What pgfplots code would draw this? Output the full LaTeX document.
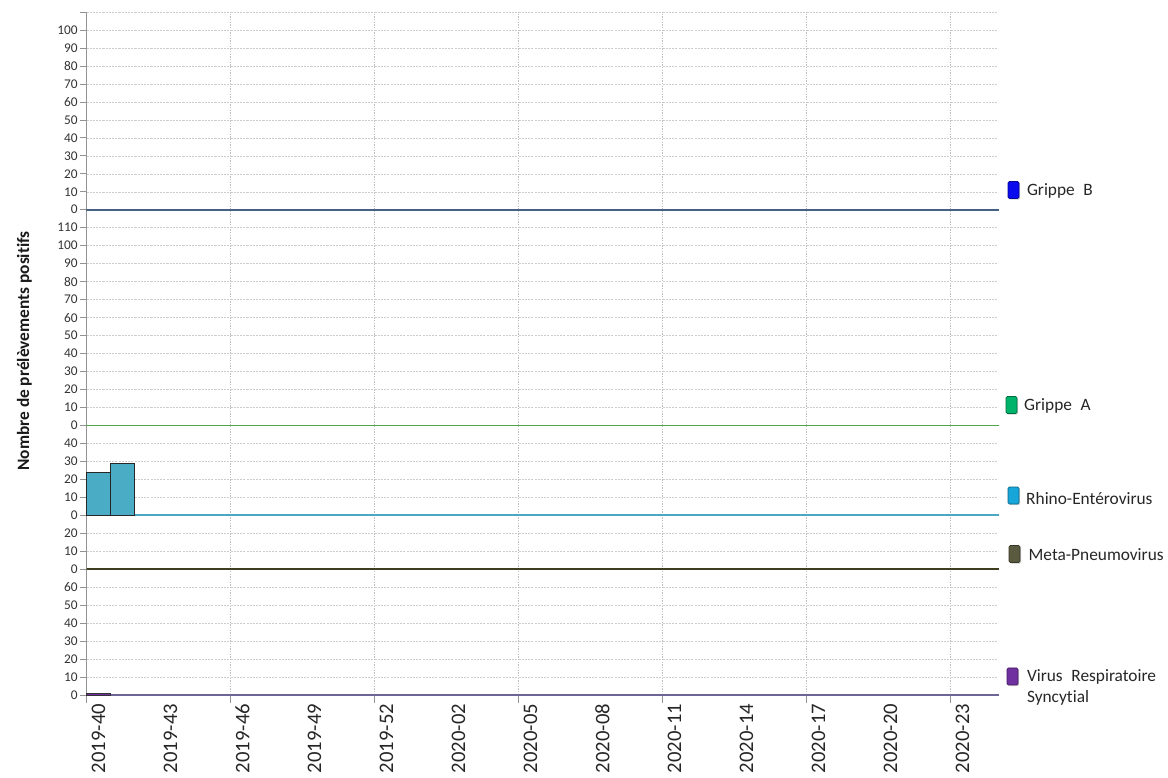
\documentclass[border=0pt]{standalone}
\usepackage{fontspec}
\setmainfont{Carlito}[Ligatures={NoCommon,NoContextual,NoRequired}]
\usepackage{pgfplots}
\pgfplotsset{compat=1.18}
\usepackage{pgfplotstable}
\usetikzlibrary{shadows}

\definecolor{lineB}{HTML}{46607F}
\definecolor{lineGA}{RGB}{80,165,72}
\definecolor{rhLine}{HTML}{4BA8C4}
\definecolor{rhFill}{HTML}{4BACC6}
\definecolor{meLine}{HTML}{3E3D20}
\definecolor{vrLine}{HTML}{6E6496}
\definecolor{vrFill}{HTML}{7030A0}
\definecolor{grBleg}{HTML}{0A0AEE}
\definecolor{grAleg}{HTML}{00B36B}
\definecolor{rhLeg}{HTML}{17A6DA}
\definecolor{meLeg}{HTML}{5A5A40}
\definecolor{vrLeg}{HTML}{7030A0}

\pgfplotstableread{
w gripB gripA rhino meta vrs
0 0 0 24 0 1
1 0 0 29 0 0
2 0 0 0 0 0
3 0 0 0 0 0
4 0 0 0 0 0
5 0 0 0 0 0
6 0 0 0 0 0
7 0 0 0 0 0
8 0 0 0 0 0
9 0 0 0 0 0
10 0 0 0 0 0
11 0 0 0 0 0
12 0 0 0 0 0
13 0 0 0 0 0
14 0 0 0 0 0
15 0 0 0 0 0
16 0 0 0 0 0
17 0 0 0 0 0
18 0 0 0 0 0
19 0 0 0 0 0
20 0 0 0 0 0
21 0 0 0 0 0
22 0 0 0 0 0
23 0 0 0 0 0
24 0 0 0 0 0
25 0 0 0 0 0
26 0 0 0 0 0
27 0 0 0 0 0
28 0 0 0 0 0
29 0 0 0 0 0
30 0 0 0 0 0
31 0 0 0 0 0
32 0 0 0 0 0
33 0 0 0 0 0
34 0 0 0 0 0
35 0 0 0 0 0
36 0 0 0 0 0
37 0 0 0 0 0
}\data

\pgfplotsset{
  panel/.style={
    x=18pt, y=1.348pt, xmin=0, xmax=38, ymin=0,
    anchor=origin, clip=false,
    axis x line=bottom, axis y line=left,
    axis line style={-},
    y axis line style={draw=gray!85, line width=0.5pt},
    xtick={0.5,3.5,...,36.5}, xticklabels={},
    minor xtick={0,6,...,36},
    xminorgrids=true, ymajorgrids=true,
    major x tick style={draw=none},
    major grid style={gray!40, dash pattern=on 1.6pt off 0.8pt, line width=0.35pt},
    minor grid style={gray!50, dash pattern=on 1pt off 1pt, line width=0.35pt},
    tick align=outside,
    major tick length=4.5pt,
    minor tick length=0pt,
    ytick style={gray!85, line width=0.5pt},
    yticklabel style={font=\fontsize{10}{11}\selectfont, text=black!80, inner sep=2pt},
    /pgf/number format/assume math mode=true,
  },
  zeroline/.style={ybar, bar width=18pt, bar shift=9pt, fill=none, line width=1.3pt},
  bars/.style={ybar, bar width=18pt, bar shift=9pt, line width=0.6pt},
}
\tikzset{
  legmark/.style={rectangle, minimum width=8.25pt, minimum height=12.75pt, inner sep=0pt,
    rounded corners=1pt, line width=0.5pt,
    drop shadow={shadow xshift=0.9pt, shadow yshift=-0.9pt, opacity=0.35}},
  legtext/.style={anchor=base west, inner sep=0pt, font=\fontsize{13}{15}\selectfont, text=black!85},
}

\begin{document}
\begin{tikzpicture}
\useasboundingbox (-64.875pt,-62.25pt) rectangle (811.125pt,521.25pt);

% VRS (bottom)
\begin{axis}[panel, at={(0pt,0pt)}, ymax=70, ytick={0,10,...,60},
  x axis line style={draw=vrLine, line width=1.3pt},
  xticklabels={2019-40,2019-43,2019-46,2019-49,2019-52,2020-02,2020-05,2020-08,2020-11,2020-14,2020-17,2020-20,2020-23},
  xticklabel style={rotate=90, anchor=east, font=\fontsize{15.5}{17}\selectfont, text=black!85, inner sep=2pt},
  minor tick length=6pt, minor x tick style={gray!85, line width=0.5pt}]
\addplot[zeroline, draw=vrLine, restrict y to domain=-0.5:0.5] table[x=w,y=vrs]{\data};
\addplot[bars, fill=vrFill, draw=black!80, restrict y to domain=0.5:1000] table[x=w,y=vrs]{\data};
\end{axis}

% Meta-Pneumovirus
\begin{axis}[panel, at={(0pt,94.36pt)}, ymax=30, ytick={0,10,20},
  x axis line style={draw=meLine, line width=1.3pt}]
\addplot[zeroline, draw=meLine] table[x=w,y=meta]{\data};
\end{axis}

% Rhino-Enterovirus
\begin{axis}[panel, at={(0pt,134.8pt)}, ymax=50, ytick={0,10,...,40},
  x axis line style={draw=rhLine, line width=1.3pt}]
\addplot[zeroline, draw=rhLine, restrict y to domain=-0.5:0.5] table[x=w,y=rhino]{\data};
\addplot[bars, fill=rhFill, draw=black!85, restrict y to domain=0.5:1000] table[x=w,y=rhino]{\data};
\end{axis}

% Grippe A (grid and ticks)
\begin{axis}[panel, at={(0pt,202.2pt)}, ymax=120, ytick={0,10,...,110},
  x axis line style={draw=lineGA, line width=1.3pt}]
\addplot[zeroline, draw=lineGA] table[x=w,y=gripA]{\data};
\end{axis}

% Grippe B
\begin{axis}[panel, at={(0pt,363.96pt)}, ymax=110, ytick={0,10,...,110},
  yticklabels={0,10,20,30,40,50,60,70,80,90,100,{}},
  x axis line style={draw=lineB, line width=1.3pt}]
\addplot[zeroline, draw=lineB] table[x=w,y=gripB]{\data};
\end{axis}

% y label
\node[rotate=90, font=\bfseries\fontsize{13}{15}\selectfont, text=black!90] at (-46.5pt,258pt) {Nombre de prélèvements positifs};

% legend
\node[legmark, fill=grBleg, draw=grBleg!60!black] at (695.25pt,378.75pt) {};
\node[legtext] at (705.2pt,374.8pt) {Grippe\hspace{0.5em}B};
\node[legmark, fill=grAleg, draw=grAleg!60!black] at (693.75pt,217.5pt) {};
\node[legtext] at (703.1pt,213.5pt) {Grippe\hspace{0.5em}A};
\node[legmark, fill=rhLeg, draw=rhLeg!60!black] at (695.25pt,149.6pt) {};
\node[legtext] at (704.6pt,142.7pt) {Rhino-Entérovirus};
\node[legmark, fill=meLeg, draw=meLeg!60!black] at (696pt,105.75pt) {};
\node[legtext] at (706.4pt,100.9pt) {Meta-Pneumovirus};
\node[legmark, fill=vrLeg, draw=vrLeg!60!black] at (694.5pt,13.9pt) {};
\node[legtext] at (705.2pt,9.9pt) {Virus\hspace{0.5em}Respiratoire};
\node[legtext] at (705.2pt,-5.7pt) {Syncytial};

% Grippe A series line, drawn last on top of everything
\begin{axis}[x=18pt, y=1.348pt, xmin=0, xmax=38, ymin=0, ymax=120,
  anchor=origin, at={(0pt,202.2pt)}, clip=false, hide axis]
\addplot[zeroline, draw=lineGA] table[x=w,y=gripA]{\data};
\end{axis}
\end{tikzpicture}
\end{document}
